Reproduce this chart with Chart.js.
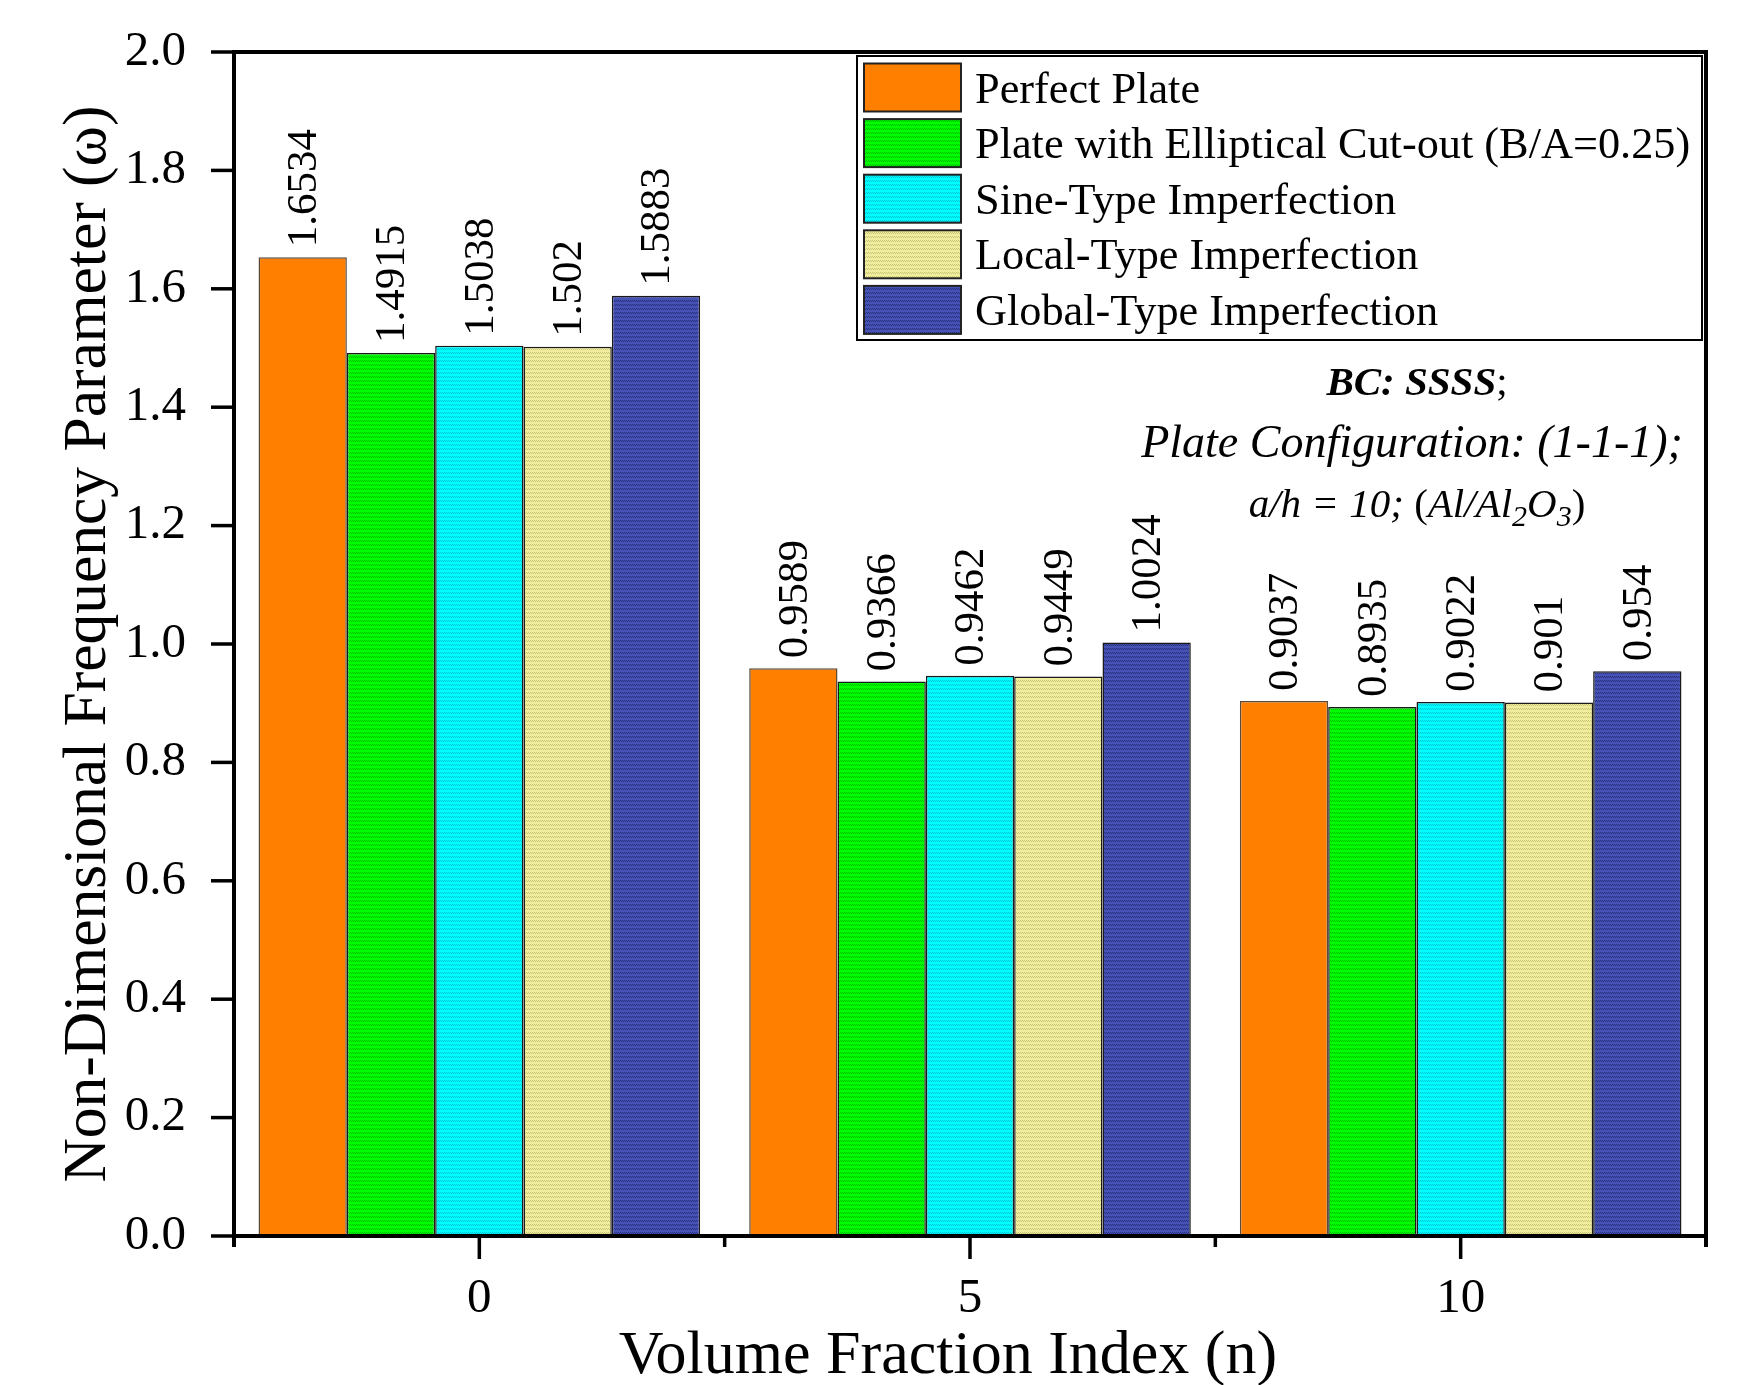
<!DOCTYPE html>
<html>
<head>
<meta charset="utf-8">
<script src="https://cdn.jsdelivr.net/npm/chart.js@4.4.1/dist/chart.umd.min.js"></script>
<style>
html,body{margin:0;padding:0;background:#fff;}
#wrap{width:1748px;height:1385px;position:relative;}
canvas{display:block;}
</style>
</head>
<body>
<div id="wrap"><canvas id="c" width="1748" height="1385"></canvas></div>
<script>
// ---------------- DATA ----------------
const categories = ['0', '5', '10'];
const seriesNames = [
  'Perfect Plate',
  'Plate with Elliptical Cut-out (B/A=0.25)',
  'Sine-Type Imperfection',
  'Local-Type Imperfection',
  'Global-Type Imperfection'
];
const perfectPlate     = [1.6534, 0.9589, 0.9037];
const ellipticalCutout = [1.4915, 0.9366, 0.8935];
const sineType         = [1.5038, 0.9462, 0.9022];
const localType        = [1.502,  0.9449, 0.901];
const globalType       = [1.5883, 1.0024, 0.954];
const yTickValues = [0.0, 0.2, 0.4, 0.6, 0.8, 1.0, 1.2, 1.4, 1.6, 1.8, 2.0];
const xTitle = 'Volume Fraction Index (n)';
const yTitle = 'Non-Dimensional Frequency Parameter (\u03C9)';

// ---------------- STYLE ----------------
const SERIF = '"Liberation Serif", "Times New Roman", serif';

function makePattern(base, dark) {
  const c = document.createElement('canvas');
  c.width = 4; c.height = 4;
  const g = c.getContext('2d');
  g.fillStyle = base; g.fillRect(0, 0, 4, 4);
  if (dark) {
    g.fillStyle = dark;
    for (let y = 0; y < 4; y++) for (let x = 0; x < 4; x++) {
      if ((x + y) % 2 === 0 && y < 2) g.fillRect(x, y, 1, 1);
    }
  }
  return g.createPattern(c, 'repeat');
}
const fills = [
  '#FF8000',
  makePattern('#00FF00', '#00C000'),
  makePattern('#00FFFF', '#00C8D8'),
  makePattern('#F0EE9C', '#C8C47A'),
  makePattern('#4652B4', '#27307E')
];
const borders = ['#5a4a3a', '#1a1a1a', '#1a1a1a', '#1a1a1a', '#1a1a1a'];
const seriesData = [perfectPlate, ellipticalCutout, sineType, localType, globalType];

function line(ctx, x1, y1, x2, y2) {
  ctx.beginPath(); ctx.moveTo(x1, y1); ctx.lineTo(x2, y2); ctx.stroke();
}

const framePlugin = {
  id: 'frame',
  afterDatasetsDraw(chart) {
    const ctx = chart.ctx, a = chart.chartArea;
    const xs = chart.scales.x, ys = chart.scales.y;
    ctx.save();
    ctx.strokeStyle = '#000';
    ctx.lineCap = 'butt';
    ctx.lineWidth = 4;
    line(ctx, a.left, a.top - 2, a.left, a.bottom + 11);
    line(ctx, a.right, a.top - 2, a.right, a.bottom + 11);
    line(ctx, a.left - 2, a.top, a.right + 2, a.top);
    line(ctx, a.left - 2, a.bottom, a.right + 2, a.bottom);
    ctx.lineWidth = 3.5;
    ys.ticks.forEach(t => {
      const y = ys.getPixelForValue(t.value);
      line(ctx, a.left - 23, y, a.left, y);
    });
    xs.ticks.forEach((t, i) => {
      const x = xs.getPixelForTick(i);
      line(ctx, x, a.bottom, x, a.bottom + 23);
    });
    for (let i = 0; i <= categories.length; i++) {
      const x = xs.getPixelForValue(i - 0.5);
      line(ctx, x, a.bottom, x, a.bottom + 11);
    }
    ctx.restore();

    // value labels
    ctx.save();
    ctx.fillStyle = '#000';
    ctx.font = '43px ' + SERIF;
    ctx.textAlign = 'left';
    ctx.textBaseline = 'middle';
    chart.data.datasets.forEach((ds, i) => {
      chart.getDatasetMeta(i).data.forEach((bar, j) => {
        ctx.save();
        ctx.translate(bar.x + 2, bar.y - 10);
        ctx.rotate(-Math.PI / 2);
        ctx.fillText(String(ds.data[j]), 0, 0);
        ctx.restore();
      });
    });
    ctx.restore();
  },
  afterDraw(chart) {
    const ctx = chart.ctx;
    ctx.save();
    ctx.fillStyle = '#000';
    // axis titles
    ctx.font = '62px ' + SERIF;
    ctx.textAlign = 'center';
    ctx.textBaseline = 'alphabetic';
    ctx.fillText(xTitle, 948, 1373);
    ctx.save();
    ctx.translate(89, 644);
    ctx.rotate(-Math.PI / 2);
    ctx.textBaseline = 'middle';
    ctx.font = '61.5px ' + SERIF;
    ctx.fillText(yTitle, 0, 0);
    ctx.restore();

    // legend
    const lx = 857, ly = 56, lw = 845, lh = 284;
    ctx.fillStyle = '#fff';
    ctx.fillRect(lx, ly, lw, lh);
    ctx.strokeStyle = '#000';
    ctx.lineWidth = 2;
    ctx.strokeRect(lx, ly, lw, lh);
    ctx.font = '44.3px ' + SERIF;
    ctx.textAlign = 'left';
    ctx.textBaseline = 'alphabetic';
    chart.data.datasets.forEach((ds, i) => {
      const cy = 87.5 + i * 55.6;
      ctx.fillStyle = ds.backgroundColor;
      ctx.fillRect(864, cy - 24, 97, 48);
      ctx.strokeStyle = '#222';
      ctx.lineWidth = 2;
      ctx.strokeRect(864, cy - 24, 97, 48);
      ctx.fillStyle = '#000';
      ctx.fillText(ds.label, 975, cy + 15);
    });

    // annotation
    function runs(items, cx, by) {
      let w = 0;
      items.forEach(r => { ctx.font = r.f; r.w = ctx.measureText(r.t).width; w += r.w; });
      let x = cx - w / 2;
      items.forEach(r => { ctx.font = r.f; ctx.fillText(r.t, x, by + (r.dy || 0)); x += r.w; });
    }
    ctx.fillStyle = '#000';
    runs([
      { t: 'BC: SSSS', f: 'italic bold 41px ' + SERIF },
      { t: ';', f: '41px ' + SERIF }
    ], 1417, 395);
    runs([
      { t: 'Plate Configuration: (1-1-1);', f: 'italic 46px ' + SERIF }
    ], 1412, 457);
    runs([
      { t: 'a/h = 10; ', f: 'italic 41px ' + SERIF },
      { t: '(', f: '41px ' + SERIF },
      { t: 'Al/Al', f: 'italic 41px ' + SERIF },
      { t: '2', f: 'italic 30px ' + SERIF, dy: 9 },
      { t: 'O', f: 'italic 41px ' + SERIF },
      { t: '3', f: 'italic 30px ' + SERIF, dy: 9 },
      { t: ')', f: '41px ' + SERIF }
    ], 1417, 517);
    ctx.restore();
  }
};

new Chart(document.getElementById('c'), {
  type: 'bar',
  data: {
    labels: categories,
    datasets: seriesNames.map((name, i) => ({
      label: name,
      data: seriesData[i],
      backgroundColor: fills[i],
      borderColor: borders[i],
      borderWidth: 1.5,
      borderSkipped: 'start',
      categoryPercentage: 0.9,
      barPercentage: 1.0
    }))
  },
  options: {
    responsive: false,
    animation: false,
    devicePixelRatio: 1,
    layout: { padding: { left: 0, right: 42, top: 52, bottom: 0 } },
    plugins: { legend: { display: false }, tooltip: { enabled: false }, title: { display: false } },
    scales: {
      x: {
        type: 'category',
        offset: true,
        grid: { display: false },
        border: { display: false },
        ticks: { color: '#000', font: { family: SERIF, size: 49 }, padding: 26, maxRotation: 0 },
        afterFit(s) { s.height = 1385 - 1236; s.paddingLeft = 0; s.paddingRight = 0; }
      },
      y: {
        min: 0, max: 2.0,
        grid: { display: false },
        border: { display: false },
        afterBuildTicks(s) { s.ticks = yTickValues.map(v => ({ value: v })); },
        ticks: { color: '#000', font: { family: SERIF, size: 49 }, padding: 40,
                 callback: v => Number(v).toFixed(1) },
        afterFit(s) { s.width = 234; s.paddingTop = 30; s.paddingBottom = 30; }
      }
    }
  },
  plugins: [framePlugin]
});
</script>
</body>
</html>
